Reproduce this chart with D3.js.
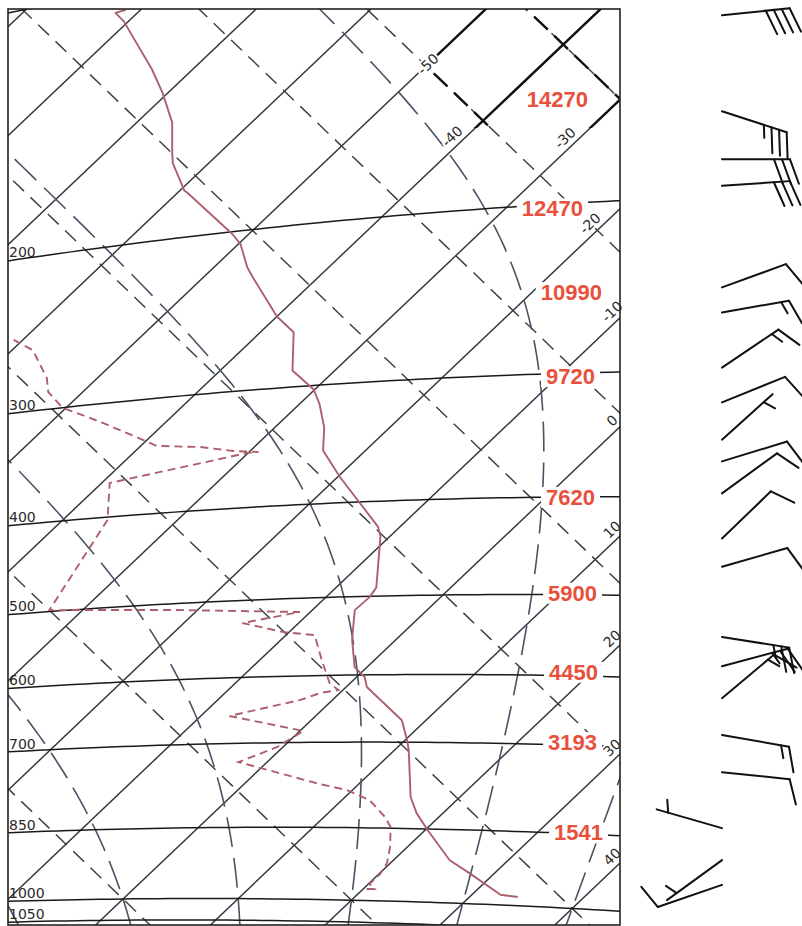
<!DOCTYPE html>
<html>
<head>
<meta charset="utf-8">
<script src="https://cdn.jsdelivr.net/npm/d3@7"></script>
<style>
body { margin: 0; background: #fff; }
</style>
</head>
<body>
<script>
// sounding: pressure (hPa) / temperature (C)
var tempP = [981, 978, 935, 910, 852, 821, 792, 712, 697, 666, 617, 603, 589, 553, 544, 516, 501, 490, 435, 425, 376, 352, 333, 314, 303, 288, 262, 251, 226, 220, 207, 201, 178, 177, 164, 160, 147, 135, 126, 109, 106, 105.6];
var tempT = [34.2, 32.5, 27.8, 24.9, 20.2, 17.7, 15.7, 11.2, 10.2, 7.9, 1.8, 0.7, -1.1, -3.8, -4.4, -6.3, -6.2, -6.5, -10.8, -11.9, -19.8, -23.7, -25.7, -28.3, -30.1, -33.7, -37.1, -40.0, -45.7, -47.1, -49.8, -51.5, -59.2, -59.6, -63.1, -64.0, -66.9, -70.5, -73.6, -80.4, -81.9, -81.3];

// dew point
var dewP = [974.7, 974.4, 963.7, 942.2, 918.9, 886.6, 847.6, 829, 798.3, 780.7, 770.3, 731.1, 707, 681.8, 656.4, 634.5, 624.8, 620.9, 610.8, 578.8, 545.8, 540.9, 527.6, 516.5, 507.7, 498.2, 402.9, 367.5, 350.2, 349.9, 347.6, 342.2, 338.3, 332.4, 315.3, 307.4, 300.1, 286.9, 276.6, 255.9, 247.5];
var dewT = [20.3, 21.0, 20.1, 20.1, 19.7, 18.5, 16.7, 15.3, 12.4, 9.5, 6.6, -2.5, -0.5, 0.3, -7.5, -2.8, -1.7, -0.4, -1.8, -4.6, -7.5, -10.5, -14.9, -10.9, -22.0, -32.9, -36.1, -39.3, -30.1, -29.2, -31.5, -34.7, -38.6, -40.3, -45.4, -47.9, -50.3, -53.0, -54.4, -58.2, -60.8];

// standard level heights (m)
var heightP = [150, 200, 250, 300, 400, 500, 600, 700, 850];
var heightVal = ['14270', '12470', '10990', '9720', '7620', '5900', '4450', '3193', '1541'];

// winds: pressure, direction (deg), speed (kt)
var windP = [127, 161, 181, 193, 246, 261, 297, 322, 351, 369, 397, 440, 469, 549, 586, 629, 682, 740, 836, 896, 945];
var windDir = [84, 108, 90, 86, 70, 80, 56, 68, 48, 73, 54, 46, 74, 99, 75, 50, 100, 96, 286, 234, 251];
var windSpd = [40, 35, 30, 30, 10, 15, 15, 10, 5, 10, 10, 10, 10, 25, 25, 15, 15, 10, 5, 5, 10];

// diagram lines
var isobars = [100, 200, 300, 400, 500, 600, 700, 850, 1000, 1050];
var isobarLabels = ['', '200', '300', '400', '500', '600', '700', '850', '1000', '1050'];
var isotherms = d3.range(-100, 60, 10);
var isothermLabels = [-50, -40, -30, -20, -10, 0, 10, 20, 30, 40];
var dryAdiabats = d3.range(-40, 180, 20);
var moistAdiabats = [-10, 0, 10, 20, 30, 40];

// label layout
var heightRight = [588, 583, 602, 595, 595, 597, 598, 597, 603];
var heightDy = [21, 13, 4, 11, 8, 6, 4, 5, 7];
var isoLabelX = [428, 459, 572, 597, 619, 619, 619, 619, 619, 619];
var isoLabelShift = [0, 10, 10, 10, 10, 10, 10, 10, 10, 10];

var width = 802, height = 926;
var K = 273.15, KAPPA = 0.2857;

// tephigram: u = T + A, w = 0.96 T - 0.95 A, A = 283 ln(theta/273.15)
var xScale = d3.scaleLinear().domain([0, 100]).range([123, 694]);
var yScale = d3.scaleLinear().domain([0, -100]).range([899, 328]);

function entropy(t, p) {
  return 283 * (Math.log((t + K) / K) + KAPPA * Math.log(1000 / p));
}
function projTA(t, a) { return [xScale(t + a), yScale(0.96 * t - 0.95 * a)]; }
function proj(t, p) { return projTA(t, entropy(t, p)); }

function isobarY(p, X) {
  var lo = -160, hi = 90;
  for (var i = 0; i < 50; i++) {
    var mid = (lo + hi) / 2;
    if (proj(mid, p)[0] < X) lo = mid; else hi = mid;
  }
  return proj(lo, p)[1];
}

// saturated adiabats
function es(t) { return 6.112 * Math.exp(17.67 * t / (t + 243.5)); }
function dTdp(t, p) {
  var T = t + K, e = es(t), rs = 0.622 * e / (p - e);
  var Rd = 287.04, Cp = 1005.7, Lv = 2.501e6;
  return ((Rd * T + Lv * rs) / p) / (Cp + (Lv * Lv * rs * 0.622) / (Rd * T * T));
}
function stepT(t, p, dp) {
  var k1 = dTdp(t, p);
  var k2 = dTdp(t + k1 * dp / 2, p + dp / 2);
  return t + k2 * dp;
}
function moistPoints(tw) {
  var up = [], t = tw, p;
  for (p = 1000; p >= 100; p -= 5) { up.push(proj(t, p)); t = stepT(t, p, -5); }
  var down = [], t2 = tw;
  for (p = 1000; p < 1070; p += 5) { t2 = stepT(t2, p, 5); down.push(proj(t2, p + 5)); }
  return down.reverse().concat(up);
}

var svg = d3.select('body').append('svg')
  .attr('width', width)
  .attr('height', height);

svg.append('rect').attr('width', width).attr('height', height).attr('fill', '#fff');

var defs = svg.append('defs');
defs.append('clipPath').attr('id', 'plotClip')
  .append('rect').attr('x', 8).attr('y', 9).attr('width', 612).attr('height', 916);
defs.append('clipPath').attr('id', 'boldClip')
  .append('rect').attr('x', 432).attr('y', 9).attr('width', 188).attr('height', 119);

var line = d3.line();
var plot = svg.append('g').attr('clip-path', 'url(#plotClip)');

function drawGrid(g, bold) {
  g.selectAll('.isotherm').data(isotherms).enter().append('path')
    .attr('d', function(t) { return line([projTA(t, -40), projTA(t, 170)]); })
    .attr('fill', 'none')
    .attr('stroke', bold ? '#111' : '#30363a')
    .attr('stroke-width', bold ? 2.4 : 1.45);

  g.selectAll('.dry').data(dryAdiabats).enter().append('path')
    .attr('d', function(c) {
      var a = 283 * Math.log((c + K) / K);
      return line([projTA(-130, a), projTA(70, a)]);
    })
    .attr('fill', 'none')
    .attr('stroke', bold ? '#111' : '#3a3f43')
    .attr('stroke-width', bold ? 2.4 : 1.45)
    .attr('stroke-dasharray', bold ? '19,9' : '15,9');
}

drawGrid(plot, false);

plot.selectAll('.moist').data(moistAdiabats).enter().append('path')
  .attr('d', function(tw) { return line(moistPoints(tw)); })
  .attr('fill', 'none')
  .attr('stroke', '#4b5264')
  .attr('stroke-width', 1.6)
  .attr('stroke-dasharray', '30,11');

plot.selectAll('.isobar').data(isobars).enter().append('path')
  .attr('d', function(p) { return line(d3.range(-130, 71, 1).map(function(t) { return proj(t, p); })); })
  .attr('fill', 'none')
  .attr('stroke', '#1a1a1a')
  .attr('stroke-width', 1.5);

var boldG = plot.append('g').attr('clip-path', 'url(#boldClip)');
drawGrid(boldG, true);

// sounding
var sounding = plot.append('g');
sounding.append('path')
  .attr('d', line(tempP.map(function(p, i) { return proj(tempT[i], p); })))
  .attr('fill', 'none')
  .attr('stroke', '#ad5f6c')
  .attr('stroke-width', 1.9)
  .attr('stroke-linejoin', 'round');

sounding.append('path')
  .attr('d', line(dewP.map(function(p, i) { return proj(dewT[i], p); })))
  .attr('fill', 'none')
  .attr('stroke', '#ad5f6c')
  .attr('stroke-width', 1.9)
  .attr('stroke-dasharray', '8,5');

// isotherm labels
var labels = svg.append('g');
var ang = Math.atan2(-0.95, 1) * 180 / Math.PI;
var nx = -0.689, ny = -0.725;
isothermLabels.forEach(function(t, i) {
  var a = xScale.invert(isoLabelX[i]) - t;
  var pt = projTA(t, a);
  var x = pt[0] + nx * isoLabelShift[i];
  var y = pt[1] + ny * isoLabelShift[i];
  labels.append('text')
    .attr('transform', 'translate(' + x + ',' + y + ') rotate(' + ang + ')')
    .attr('text-anchor', 'middle')
    .attr('dy', '0.35em')
    .style('font-family', '"DejaVu Sans", sans-serif')
    .style('font-size', '14px')
    .attr('fill', '#2a2a2a')
    .attr('stroke', '#fff')
    .attr('stroke-width', 4)
    .attr('paint-order', 'stroke')
    .text(t);
});

// isobar labels at the left
isobars.forEach(function(p, i) {
  if (!isobarLabels[i]) return;
  labels.append('text')
    .attr('x', 9)
    .attr('y', isobarY(p, 12) - 3)
    .style('font-family', '"DejaVu Sans", sans-serif')
    .style('font-size', '14px')
    .attr('fill', '#2a2a2a')
    .text(isobarLabels[i]);
});

// frame
svg.append('rect')
  .attr('x', 8).attr('y', 9).attr('width', 612).attr('height', 916)
  .attr('fill', 'none').attr('stroke', '#222').attr('stroke-width', 1.6);

// heights
heightP.forEach(function(p, i) {
  var g = svg.append('g');
  var txt = g.append('text')
    .attr('x', heightRight[i])
    .attr('y', isobarY(p, 570) + heightDy[i])
    .attr('text-anchor', 'end')
    .style('font-family', '"Liberation Sans", Arial, sans-serif')
    .style('font-size', '22px')
    .style('font-weight', 'bold')
    .attr('fill', '#e8503c')
    .text(heightVal[i]);
  var bb = txt.node().getBBox();
  g.insert('rect', 'text')
    .attr('x', bb.x - 5).attr('y', bb.y + 2)
    .attr('width', bb.width + 10).attr('height', bb.height - 4)
    .attr('fill', '#fff');
});

// wind barbs
var staffLen = 68, barbLen = 26, barbGap = 8;
var rot = 70 * Math.PI / 180;
var barbs = svg.append('g')
  .attr('stroke', '#111')
  .attr('stroke-width', 2)
  .attr('stroke-linecap', 'round')
  .attr('fill', 'none');

windP.forEach(function(p, i) {
  var sx = 722, sy = isobarY(p, 620);
  var a = windDir[i] * Math.PI / 180;
  var dx = Math.sin(a), dy = -Math.cos(a);
  var tx = sx + dx * staffLen, ty = sy + dy * staffLen;
  var fx = dx * Math.cos(rot) - dy * Math.sin(rot);
  var fy = dx * Math.sin(rot) + dy * Math.cos(rot);
  var segs = [[[sx, sy], [tx, ty]]];
  var full = Math.floor(windSpd[i] / 10);
  var half = (windSpd[i] % 10) >= 5;
  var pos = 0;
  for (var k = 0; k < full; k++) {
    var px = tx - dx * pos, py = ty - dy * pos;
    segs.push([[px, py], [px + fx * barbLen, py + fy * barbLen]]);
    pos += barbGap;
  }
  if (half) {
    if (full === 0) pos = 12;
    var hx = tx - dx * pos, hy = ty - dy * pos;
    segs.push([[hx, hy], [hx + fx * barbLen / 2, hy + fy * barbLen / 2]]);
  }
  segs.forEach(function(s) { barbs.append('path').attr('d', line(s)); });
});
</script>
</body>
</html>
